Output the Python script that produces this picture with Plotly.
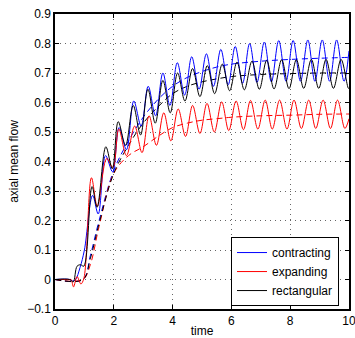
import plotly.graph_objects as go

# ---- data ----
contracting_t = [0, 0.5, 0.6, 0.7, 0.85, 1.0, 1.28, 1.47, 1.72, 1.96, 2.18, 2.43,
                 2.68, 2.93, 3.17, 3.42, 3.67, 3.91, 4.16, 4.41, 4.65, 4.90, 5.15, 5.39,
                 5.64, 5.89, 6.13, 6.38, 6.62, 6.87, 7.12, 7.36, 7.61, 7.86, 8.10, 8.35,
                 8.60, 8.84, 9.09, 9.34, 9.58, 9.83, 10.0]
contracting_v = [0, 0, -0.005, 0.0, 0.04, 0.10, 0.285, 0.222, 0.42, 0.365, 0.515, 0.44,
                 0.605, 0.52, 0.655, 0.555, 0.70, 0.59, 0.735, 0.625, 0.755, 0.645, 0.765, 0.655,
                 0.78, 0.66, 0.79, 0.665, 0.80, 0.668, 0.805, 0.67, 0.81, 0.672, 0.81, 0.672,
                 0.812, 0.672, 0.812, 0.672, 0.812, 0.672, 0.775]

expanding_t = [0, 0.5, 0.55, 0.63, 0.75, 0.88, 0.98, 1.24, 1.44, 1.76, 1.97, 2.17, 2.43,
               2.71, 2.96, 3.20, 3.45, 3.70, 3.94, 4.19, 4.44, 4.68, 4.93, 5.17, 5.42,
               5.67, 5.91, 6.16, 6.41, 6.65, 6.90, 7.15, 7.39, 7.64, 7.89, 8.13, 8.38,
               8.63, 8.87, 9.12, 9.37, 9.61, 9.86, 10.0]
expanding_v = [0, 0, 0.0, -0.025, 0.01, -0.015, 0.003, 0.345, 0.248, 0.41, 0.38, 0.51, 0.42,
               0.52, 0.43, 0.555, 0.455, 0.565, 0.47, 0.578, 0.485, 0.59, 0.495, 0.597, 0.50,
               0.602, 0.505, 0.605, 0.508, 0.607, 0.51, 0.608, 0.51, 0.608, 0.51, 0.608, 0.512,
               0.608, 0.512, 0.608, 0.512, 0.608, 0.512, 0.545]

rectangular_t = [0, 0.5, 0.62, 0.75, 0.87, 0.98, 1.26, 1.43, 1.73, 1.95, 2.15, 2.40,
                 2.66, 2.91, 3.16, 3.41, 3.67, 3.92, 4.17, 4.42, 4.68, 4.93, 5.18, 5.43,
                 5.69, 5.94, 6.19, 6.44, 6.70, 6.95, 7.20, 7.45, 7.71, 7.96, 8.21, 8.46,
                 8.72, 8.97, 9.22, 9.47, 9.73, 9.98, 10.0]
rectangular_v = [0, 0, -0.008, 0.045, 0.05, 0.045, 0.315, 0.245, 0.45, 0.375, 0.535, 0.455,
                 0.59, 0.49, 0.645, 0.53, 0.675, 0.565, 0.70, 0.605, 0.715, 0.62, 0.725, 0.63,
                 0.73, 0.64, 0.737, 0.643, 0.74, 0.645, 0.743, 0.646, 0.745, 0.647, 0.745, 0.648,
                 0.746, 0.648, 0.746, 0.648, 0.746, 0.648, 0.649]

mean_t = [0, 0.95, 1.2, 1.5, 2.0, 2.5, 3.0, 3.5, 4.0, 4.5, 5.0, 5.5, 6.0, 7.0, 8.0, 9.0, 10.0]
contracting_mean = [0, 0, 0.08, 0.20, 0.37, 0.47, 0.55, 0.61, 0.655, 0.685, 0.705, 0.72, 0.73, 0.74, 0.746, 0.75, 0.753]
expanding_mean = [0, 0, 0.05, 0.18, 0.36, 0.42, 0.45, 0.485, 0.515, 0.53, 0.54, 0.545, 0.55, 0.555, 0.557, 0.56, 0.561]
rectangular_mean = [0, 0, 0.07, 0.19, 0.36, 0.455, 0.53, 0.585, 0.63, 0.655, 0.67, 0.68, 0.688, 0.695, 0.698, 0.70, 0.70]

series = [
    ("contracting", "#0000ff", contracting_t, contracting_v, contracting_mean),
    ("expanding", "#ff0000", expanding_t, expanding_v, expanding_mean),
    ("rectangular", "#000000", rectangular_t, rectangular_v, rectangular_mean),
]

x_ticks = [0, 2, 4, 6, 8, 10]
y_ticks = [-0.1, 0, 0.1, 0.2, 0.3, 0.4, 0.5, 0.6, 0.7, 0.8, 0.9]
y_tick_labels = ["\u22120.1", "0", "0.1", "0.2", "0.3", "0.4", "0.5", "0.6", "0.7", "0.8", "0.9"]

FONT = "Liberation Sans, Arial, sans-serif"

fig = go.Figure()
for name, color, t, v, m in series:
    fig.add_trace(go.Scatter(x=mean_t, y=m, mode="lines", showlegend=False,
                             line=dict(color=color, width=1, dash="6px,4px", shape="spline")))
for name, color, t, v, m in series:
    fig.add_trace(go.Scatter(x=t, y=v, mode="lines", name=name,
                             line=dict(color=color, width=1, shape="spline", smoothing=1.0)))

axis_common = dict(showline=True, linecolor="black", linewidth=1.5, mirror="ticks",
                   ticks="inside", ticklen=4, tickcolor="black", zeroline=False,
                   automargin=False, ticklabeloverflow="allow",
                   showgrid=True, gridcolor="rgba(0,0,0,0.6)", griddash="1px,4px", gridwidth=1,
                   tickfont=dict(family=FONT, size=12, color="black"))

fig.update_xaxes(range=[0, 10], tickvals=x_ticks, ticktext=[str(v) for v in x_ticks],
                 title=dict(text="time", standoff=9,
                            font=dict(family=FONT, size=12, color="black")),
                 **axis_common)
fig.update_yaxes(range=[-0.1, 0.9], tickvals=y_ticks, ticktext=y_tick_labels,
                 title=dict(text="axial mean flow", standoff=6,
                            font=dict(family=FONT, size=12, color="black")),
                 **axis_common)

fig.update_layout(
    width=355, height=338,
    margin=dict(l=55, r=6, t=14, b=29),
    paper_bgcolor="white", plot_bgcolor="white",
    font=dict(family=FONT, size=12, color="black"),
    legend=dict(x=0.966, y=0.01, xanchor="right", yanchor="bottom",
                bgcolor="white", bordercolor="black", borderwidth=1,
                font=dict(size=12), tracegroupgap=0, itemwidth=30),
)

fig.write_html("out.html", config={"displayModeBar": False},
               post_script="document.body.style.margin='0';document.body.style.overflow='hidden';")
